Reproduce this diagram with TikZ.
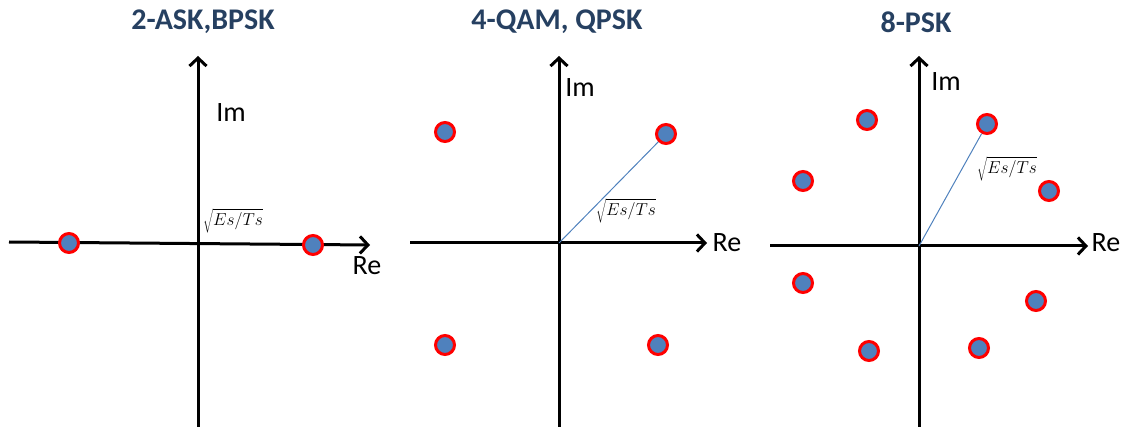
\documentclass[tikz,border=0pt]{standalone}
\usepackage{fontspec}
\setmainfont{Carlito}
\usetikzlibrary{arrows.meta}
\definecolor{titleblue}{RGB}{38,64,97}
\definecolor{ptblue}{RGB}{79,129,189}
\begin{document}
\begin{tikzpicture}[x=1pt,y=-1pt,
        >={Straight Barb[length=8pt,width=17pt,line width=3pt]},
        axis/.style={line width=3pt,->},
        title/.style={font=\fontsize{30}{35}\selectfont\bfseries,text=titleblue},
        axlabel/.style={font=\fontsize{28}{33}\selectfont},
        amp/.style={font=\fontsize{18}{21}\selectfont},
        sym/.style={draw=red,fill=ptblue,circle,line width=3pt,minimum size=19pt,inner sep=0pt},
        radius line/.style={ptblue,line width=1pt}]
        \useasboundingbox (0,0) rectangle (1124,427);

        % 2-ASK, BPSK
        \node[title] (t1) at (203,22) {2-ASK,BPSK};
        \coordinate (o1) at (198,243);
        \coordinate (x1a) at (9,242);
        \coordinate (x1b) at (370,245);
        \coordinate (y1a) at (198,427);
        \coordinate (y1b) at (198,56);
        \draw[axis] (x1a) -- (x1b);
        \draw[axis] (y1a) -- (y1b);
        \node[axlabel] (im1) at (231,113) {Im};
        \node[axlabel] (re1) at (367,266) {Re};
        \node[amp] (a1) at (233,221) {$\sqrt{Es/Ts}$};
        \node[sym] (p1a) at (69,243) {};
        \node[sym] (p1b) at (313,245) {};

        % 4-QAM, QPSK
        \node[title] (t2) at (557,22) {4-QAM, QPSK};
        \coordinate (o2) at (559,243);
        \coordinate (x2a) at (410,243);
        \coordinate (x2b) at (707,243);
        \coordinate (y2a) at (559,427);
        \coordinate (y2b) at (559,56);
        \draw[axis] (x2a) -- (x2b);
        \draw[axis] (y2a) -- (y2b);
        \node[axlabel] (im2) at (580,88) {Im};
        \node[axlabel] (re2) at (727,243) {Re};
        \node[amp] (a2) at (626,211) {$\sqrt{Es/Ts}$};
        \foreach \n/\x/\y in {q1/666/134,q2/445/132,q3/445/345,q4/658/345} {
                \node[sym] (\n) at (\x,\y) {};
            }
        \draw[radius line] (o2) -- (q1);

        % 8-PSK
        \node[title] (t3) at (916,22) {8-PSK};
        \coordinate (o3) at (919,246);
        \coordinate (x3a) at (770,246);
        \coordinate (x3b) at (1088,246);
        \coordinate (y3a) at (919,427);
        \coordinate (y3b) at (919,56);
        \draw[axis] (x3a) -- (x3b);
        \draw[axis] (y3a) -- (y3b);
        \node[axlabel] (im3) at (946,82) {Im};
        \node[axlabel] (re3) at (1106,243) {Re};
        \node[amp] (a3) at (1007,169) {$\sqrt{Es/Ts}$};
        \foreach \n/\x/\y in {s1/987/124,s2/1049/191,s3/1036/301,s4/979/348,
                s5/869/351,s6/803/283,s7/803/181,s8/867/120} {
                \node[sym] (\n) at (\x,\y) {};
            }
        \draw[radius line] (o3) -- (s1);
    \end{tikzpicture}
\end{document}
